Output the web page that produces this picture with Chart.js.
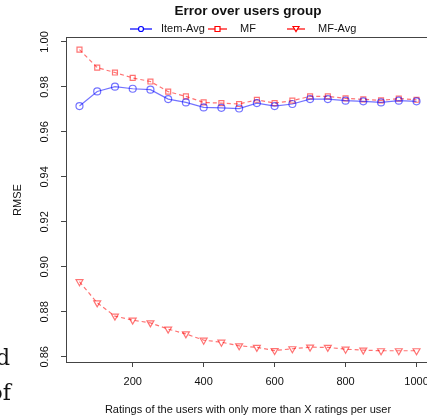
<!DOCTYPE html>
<html>
<head>
<meta charset="utf-8">
<script src="https://cdn.jsdelivr.net/npm/chart.js@4/dist/chart.umd.min.js"></script>
<style>
  html, body { margin: 0; padding: 0; background: #fff; overflow: hidden; }
  #wrap { width: 440px; height: 418px; }
</style>
</head>
<body>
<div id="wrap"><canvas id="rmseChart" width="440" height="418"></canvas></div>
<script>
// X ratings threshold
const thresholds = [50, 100, 150, 200, 250, 300, 350, 400, 450, 500,
                    550, 600, 650, 700, 750, 800, 850, 900, 950, 1000];
const itemAvg = [0.9715, 0.9780, 0.9801, 0.9792, 0.9788, 0.9746, 0.9731, 0.9709, 0.9707, 0.9704,
                 0.9728, 0.9715, 0.9724, 0.9746, 0.9746, 0.9739, 0.9736, 0.9731, 0.9739, 0.9736];
const mf = [0.9966, 0.9886, 0.9864, 0.9840, 0.9824, 0.9779, 0.9758, 0.9731, 0.9728, 0.9724,
            0.9743, 0.9728, 0.9739, 0.9758, 0.9758, 0.9749, 0.9745, 0.9740, 0.9748, 0.9743];
const mfAvg = [0.8934, 0.8840, 0.8781, 0.8763, 0.8751, 0.8723, 0.8702, 0.8674, 0.8665, 0.8649,
               0.8642, 0.8628, 0.8636, 0.8643, 0.8642, 0.8634, 0.8630, 0.8627, 0.8627, 0.8627];
const yTicks = [0.86, 0.88, 0.90, 0.92, 0.94, 0.96, 0.98, 1.00];
const xTicks = [200, 400, 600, 800, 1000];

const FONT = "'Liberation Sans', Arial, sans-serif";
const BLUE = 'rgba(0, 0, 255, 0.55)';
const RED = 'rgba(255, 0, 0, 0.55)';

const toPts = arr => thresholds.map((x, i) => ({ x: x, y: arr[i] }));

// R-like frame, labels, legend drawn on top
const rStyle = {
    id: 'rStyle',
    afterDraw(chart) {
        const c = chart.ctx;
        const a = chart.chartArea;
        const xs = chart.scales.x, ys = chart.scales.y;
        c.save();
        c.strokeStyle = '#444';
        c.lineWidth = 1;
        c.strokeRect(a.left + 0.5, a.top + 0.5, a.right - a.left, a.bottom - a.top);

        c.fillStyle = '#111';
        c.font = `11px ${FONT}`;
        c.textAlign = 'center';
        c.textBaseline = 'middle';
        xTicks.forEach(v => c.fillText(String(v), xs.getPixelForValue(v), 382));
        c.fillText('Ratings of the users with only more than X ratings per user', 248, 410);

        yTicks.forEach(v => {
            c.save();
            c.translate(45, ys.getPixelForValue(v));
            c.rotate(-Math.PI / 2);
            c.fillText(v.toFixed(2), 0, 0);
            c.restore();
        });
        c.save();
        c.translate(18, 200);
        c.rotate(-Math.PI / 2);
        c.fillText('RMSE', 0, 0);
        c.restore();

        c.font = `bold 13.5px ${FONT}`;
        c.fillText('Error over users group', 248, 11);

        // legend
        const items = [
            { label: 'Item-Avg', color: 'blue', x0: 130, x1: 152, tx: 161, style: 'circle' },
            { label: 'MF', color: 'red', x0: 208, x1: 227, tx: 240, style: 'rect' },
            { label: 'MF-Avg', color: 'red', x0: 287, x1: 305, tx: 318, style: 'tri' }
        ];
        const ly = 29;
        c.font = `11px ${FONT}`;
        c.textAlign = 'left';
        items.forEach(it => {
            c.strokeStyle = it.color;
            c.lineWidth = 1.2;
            c.beginPath();
            c.moveTo(it.x0, ly);
            c.lineTo(it.x1, ly);
            c.stroke();
            const mx = (it.x0 + it.x1) / 2;
            c.fillStyle = '#fff';
            c.beginPath();
            if (it.style === 'circle') c.arc(mx, ly, 2.5, 0, Math.PI * 2);
            else if (it.style === 'rect') c.rect(mx - 2.5, ly - 2.5, 5, 5);
            else { c.moveTo(mx - 3, ly - 2.5); c.lineTo(mx + 3, ly - 2.5); c.lineTo(mx, ly + 2.5); c.closePath(); }
            c.fill();
            c.stroke();
            c.fillStyle = '#111';
            c.fillText(it.label, it.tx, ly);
        });

        // leftover text from the surrounding page
        c.font = "22px 'DejaVu Serif', 'Liberation Serif', serif";
        c.textAlign = 'right';
        c.textBaseline = 'alphabetic';
        c.fillText('d', 10, 365);
        c.fillText('of', 11, 400);
        c.restore();
    }
};

const ctx = document.getElementById('rmseChart').getContext('2d');

new Chart(ctx, {
    type: 'line',
    data: {
        datasets: [{
            label: 'Item-Avg',
            data: toPts(itemAvg),
            borderColor: BLUE,
            backgroundColor: 'rgba(0,0,0,0)',
            borderWidth: 1.2,
            pointStyle: 'circle',
            pointRadius: 3.5,
            pointBorderWidth: 1.2,
            pointBorderColor: BLUE,
            tension: 0
        }, {
            label: 'MF',
            data: toPts(mf),
            borderColor: RED,
            backgroundColor: 'rgba(0,0,0,0)',
            borderWidth: 1.2,
            borderDash: [4, 3],
            pointStyle: 'rect',
            pointRadius: 3.5,
            pointBorderWidth: 1.2,
            pointBorderColor: RED,
            tension: 0
        }, {
            label: 'MF-Avg',
            data: toPts(mfAvg),
            borderColor: RED,
            backgroundColor: 'rgba(0,0,0,0)',
            borderWidth: 1.2,
            borderDash: [4, 3],
            pointStyle: 'triangle',
            rotation: 180,
            pointRadius: 4,
            pointBorderWidth: 1.2,
            pointBorderColor: RED,
            tension: 0
        }]
    },
    options: {
        responsive: false,
        animation: false,
        events: [],
        layout: { padding: { top: 37, right: 10, left: 0, bottom: 0 } },
        plugins: { legend: { display: false }, tooltip: { enabled: false }, title: { display: false } },
        scales: {
            x: {
                type: 'linear',
                min: 12,
                max: 1038,
                afterBuildTicks: s => { s.ticks = xTicks.map(v => ({ value: v })); },
                afterFit: s => { s.height = 56; },
                ticks: { display: false },
                grid: { drawOnChartArea: false, drawTicks: true, tickLength: 5, color: '#444' },
                border: { display: true, color: '#444' }
            },
            y: {
                min: 0.8577,
                max: 1.0022,
                afterBuildTicks: s => { s.ticks = yTicks.map(v => ({ value: v })); },
                afterFit: s => { s.width = 66; },
                ticks: { display: false },
                grid: { drawOnChartArea: false, drawTicks: true, tickLength: 5, color: '#444' },
                border: { display: true, color: '#444' }
            }
        }
    },
    plugins: [rStyle]
});
</script>
</body>
</html>
